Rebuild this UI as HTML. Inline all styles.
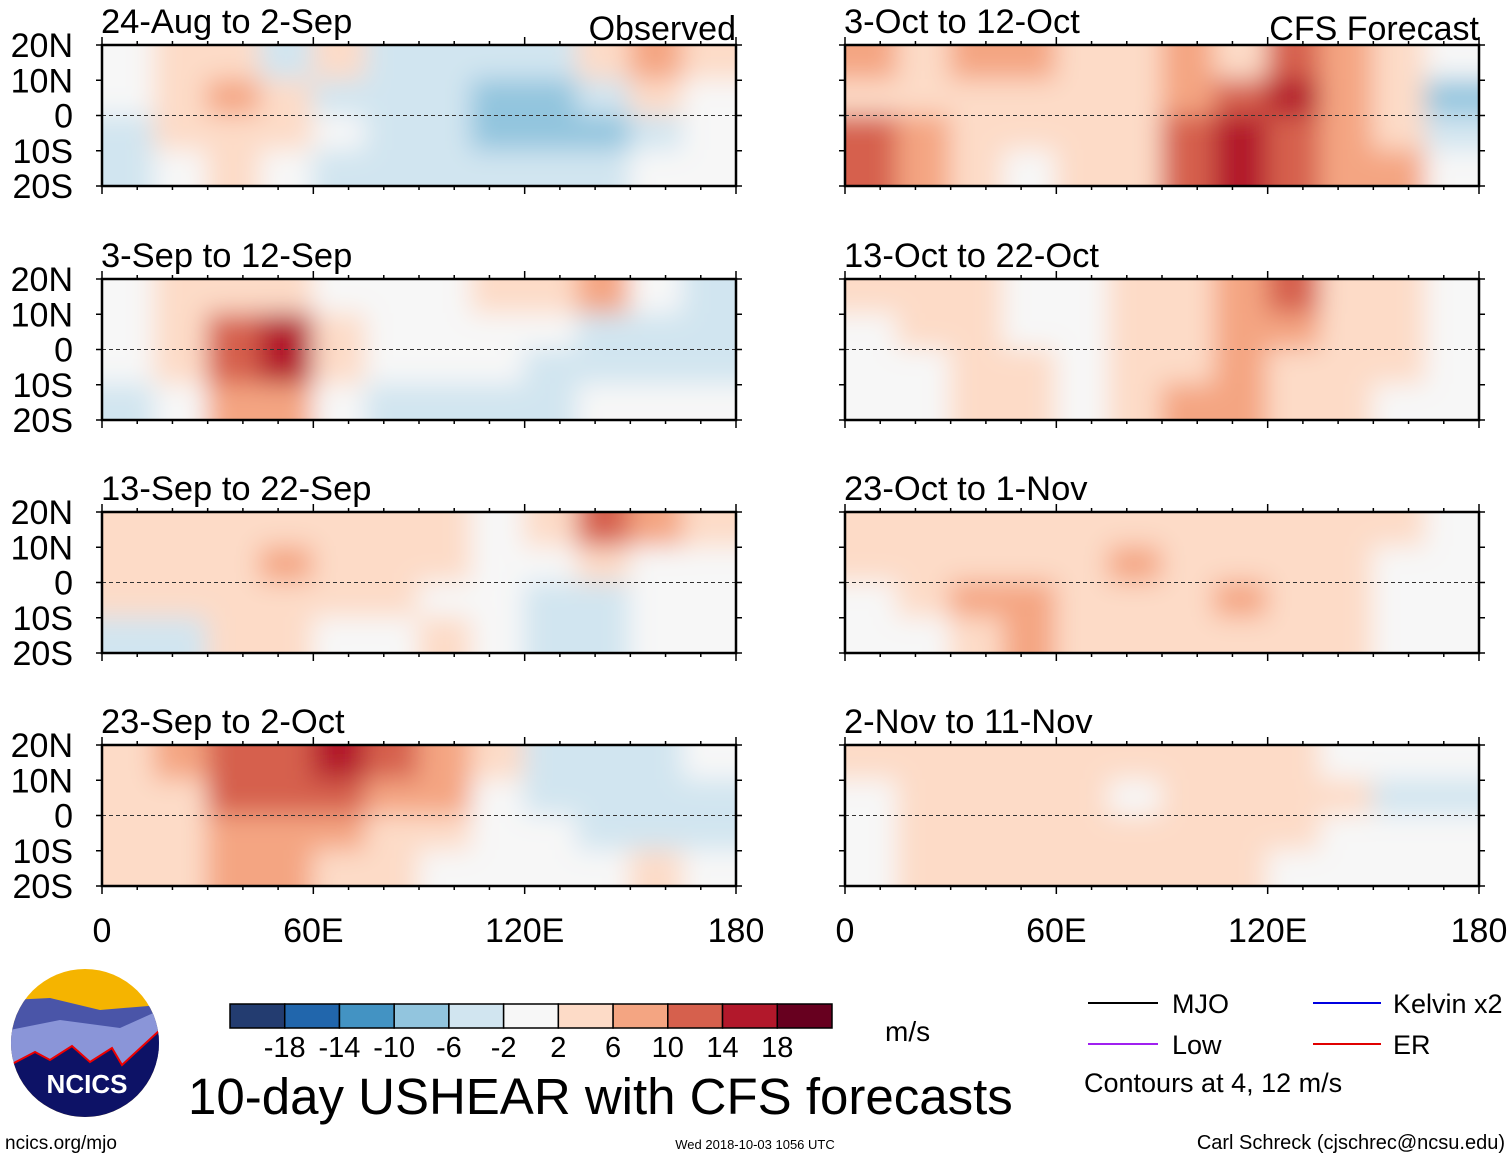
<!DOCTYPE html>
<html><head><meta charset="utf-8"><style>
html,body{margin:0;padding:0;background:#fff;}
svg{display:block;font-family:"Liberation Sans",sans-serif;}
</style></head><body>
<svg id="chart" width="1510" height="1159" viewBox="0 0 1510 1159" xmlns="http://www.w3.org/2000/svg">
<defs>
<filter id="blur" filterUnits="userSpaceOnUse" x="0" y="0" width="1510" height="960"><feGaussianBlur stdDeviation="13"/></filter>
</defs>
<g id="panels"></g>
<g id="bottom">
  <g>
    <clipPath id="logoclip"><circle cx="85" cy="1043" r="74"/></clipPath>
    <g clip-path="url(#logoclip)">
      <rect x="10" y="968" width="150" height="150" fill="#f5b400"/>
      <path d="M10 1000 L50 998 L100 1010 L160 1005 L160 1060 L10 1060Z" fill="#4a55a8"/>
      <path d="M10 1030 L60 1020 L120 1028 L160 1010 L160 1070 L10 1070Z" fill="#8a95d8"/>
      <path d="M10 1065 L35 1052 L50 1060 L72 1046 L90 1062 L112 1048 L122 1065 L160 1030 L160 1120 L10 1120Z" fill="#0d1266" stroke="#e00" stroke-width="2"/>
    </g>
    <text x="87" y="1093" font-size="26" font-weight="bold" fill="#fff" text-anchor="middle">NCICS</text>
  </g>
  <g id="cbar"></g>
  <text x="885" y="1041" font-size="28">m/s</text>
  <text x="188" y="1114" font-size="51">10-day USHEAR with CFS forecasts</text>
  <text x="5" y="1149" font-size="19">ncics.org/mjo</text>
  <text x="755" y="1149" font-size="13" text-anchor="middle">Wed 2018-10-03 1056 UTC</text>
  <text x="1505" y="1149" font-size="20" text-anchor="end">Carl Schreck (cjschrec@ncsu.edu)</text>
  <g>
    <line x1="1088" y1="1003" x2="1158" y2="1003" stroke="#000" stroke-width="2"/>
    <text x="1172" y="1013" font-size="27">MJO</text>
    <line x1="1088" y1="1044" x2="1158" y2="1044" stroke="#a020f0" stroke-width="2"/>
    <text x="1172" y="1054" font-size="27">Low</text>
    <line x1="1313" y1="1003" x2="1381" y2="1003" stroke="#0000e0" stroke-width="2"/>
    <text x="1393" y="1013" font-size="27">Kelvin x2</text>
    <line x1="1313" y1="1044" x2="1381" y2="1044" stroke="#e00000" stroke-width="2"/>
    <text x="1393" y="1054" font-size="27">ER</text>
    <text x="1084" y="1092" font-size="27">Contours at 4, 12 m/s</text>
  </g>
</g>
</svg>
<script>
const titles = ["24-Aug to 2-Sep","3-Sep to 12-Sep","13-Sep to 22-Sep","23-Sep to 2-Oct","3-Oct to 12-Oct","13-Oct to 22-Oct","23-Oct to 1-Nov","2-Nov to 11-Nov"];
const lonCenters = [7.5,22.5,37.5,52.5,67.5,82.5,97.5,112.5,127.5,142.5,157.5,172.5];
const latBands = [15,5,-5,-15];
const p1 = [[0,3,3,-3,2,-3,-4,-6,-6,4,6,3],[-2,2,6,2,-3,-4,-6,-10,-8,-6,2,0],[-4,2,4,2,-2,-4,-6,-8,-8,-8,-3,-2],[-3,-2,2,0,-3,-4,-4,-6,-6,-4,-2,0]];
const p2 = [[0,2,4,4,0,-2,-2,2,3,6,-2,-4],[0,3,10,14,4,0,-2,0,0,-4,-6,-6],[-2,3,12,14,4,0,0,-2,-3,-4,-4,-3],[-3,0,6,6,0,-3,-3,-3,-4,-2,-2,-2]];
const p3 = [[3,4,4,3,4,4,2,0,4,12,8,4],[2,3,4,6,2,2,2,0,0,2,-2,-2],[2,2,2,3,2,2,0,0,-4,-6,-2,0],[-3,-6,2,2,0,0,2,0,-3,-3,0,0]];
const p4 = [[4,6,10,12,14,12,8,4,-3,-6,-4,-2],[3,4,10,10,10,8,6,0,-4,-6,-4,-6],[3,4,8,8,6,4,2,0,-2,-4,-3,-6],[3,4,8,6,4,2,0,0,-2,-2,2,-2]];
const p5 = [[6,4,6,6,2,4,6,4,10,6,2,-2],[4,2,4,3,2,4,8,10,14,8,4,-8],[10,6,4,2,2,4,10,14,12,8,4,-4],[10,6,2,0,2,4,10,14,10,8,6,-2]];
const p6 = [[2,2,2,0,-2,2,2,6,10,4,2,0],[0,2,2,0,-2,2,4,6,8,4,2,0],[-2,0,2,2,0,2,4,6,4,4,2,0],[-2,0,2,2,0,2,6,8,4,2,0,0]];
const p7 = [[2,2,2,2,2,2,3,2,2,3,2,0],[2,2,3,4,3,6,2,4,2,2,0,-2],[0,2,6,6,2,2,2,6,4,2,-2,0],[-2,0,4,6,2,2,2,4,2,2,0,0]];
const p8 = [[2,2,3,2,2,2,2,2,3,0,-2,-2],[0,2,3,3,2,0,2,4,3,2,-3,-3],[0,2,3,3,2,2,3,4,2,0,-2,0],[0,2,3,4,3,2,3,2,0,0,0,0]];
const panelData = [p1,p2,p3,p4,p5,p6,p7,p8];
const levels = [-18,-14,-10,-6,-2,2,6,10,14,18];
const levelColors = ["#233c70","#2166ac","#4393c3","#92c5de","#d1e5f0","#f7f7f7","#fddbc7","#f4a582","#d6604d","#b2182b","#67001f"];
const cbarLabels = ["-18","-14","-10","-6","-2","2","6","10","14","18"];
const yTicks = ["20N","10N","0","10S","20S"];
const yTickVals = [20,10,0,-10,-20];
const xTicks = ["0","60E","120E","180"];
const xTickVals = [0,60,120,180];

const NS="http://www.w3.org/2000/svg";
const W=634, H=141;
const colX=[102,845], rowY=[45,279,512,745];
function colorFor(v){let i=0;while(i<levels.length&&v>=levels[i])i++;return levelColors[i];}
function mk(tag,attrs,parent){const e=document.createElementNS(NS,tag);for(const k in attrs)e.setAttribute(k,attrs[k]);parent.appendChild(e);return e;}
const root=document.getElementById('panels');
panelData.forEach((grid,pi)=>{
  const x0=colX[pi<4?0:1], y0=rowY[pi%4];
  const xs=lon=>x0+lon/180*W, ys=lat=>y0+(20-lat)/40*H;
  const g=mk('g',{},root);
  
  
  const cp=mk('clipPath',{id:'cp'+pi},g);
  mk('rect',{x:x0,y:y0,width:W,height:H},cp);
  const cg=mk('g',{'clip-path':'url(#cp'+pi+')'},g);
  mk('rect',{x:x0,y:y0,width:W,height:H,fill:'#f7f7f7'},cg);
  const bg=mk('g',{filter:'url(#blur)'},cg);
  grid.forEach((row,ri)=>row.forEach((v,ci)=>{
    let lx=xs(lonCenters[ci]-7.5)-1, lw=W/12+2, ly=ys(latBands[ri]+5)-1, lh=H/4+2;
    if(ci===0){lx-=40;lw+=40;} if(ci===11){lw+=40;}
    if(ri===0){ly-=40;lh+=40;} if(ri===3){lh+=40;}
    const r=mk('rect',{x:lx,y:ly,width:lw,height:lh,fill:colorFor(v)},bg);
    
    
  }));
  const eq=mk('line',{x1:x0,x2:x0+W,y1:ys(0),y2:ys(0),stroke:'#333','stroke-width':1,'stroke-dasharray':'4,3'},g);
  
  
  const fr=mk('rect',{x:x0,y:y0,width:W,height:H,fill:'none',stroke:'#000','stroke-width':2.5},g);
  
  
  for(let lon=0;lon<=180;lon+=10){const l=lon%60===0?8:4;
    mk('line',{x1:xs(lon),x2:xs(lon),y1:y0,y2:y0-l,stroke:'#000','stroke-width':1.5},g);
    mk('line',{x1:xs(lon),x2:xs(lon),y1:y0+H,y2:y0+H+l,stroke:'#000','stroke-width':1.5},g);}
  yTickVals.forEach(v=>{mk('line',{x1:x0,x2:x0-6,y1:ys(v),y2:ys(v),stroke:'#000','stroke-width':1.5},g);mk('line',{x1:x0+W,x2:x0+W+6,y1:ys(v),y2:ys(v),stroke:'#000','stroke-width':1.5},g);});
  const t=mk('text',{x:x0-1,y:y0-12,'font-size':34.5},g);t.textContent=titles[pi];
  
  
  if(pi===0||pi===4){const s=mk('text',{x:x0+W,y:y0-5,'font-size':34,'text-anchor':'end'},g);s.textContent=pi===0?'Observed':'CFS Forecast';
    
    }
  if(pi<4){yTicks.forEach((lab,i)=>{const tt=mk('text',{x:73,y:ys(yTickVals[i])+12,'font-size':34,'text-anchor':'end'},g);tt.textContent=lab;
    
    });}
  if(pi%4===3){xTicks.forEach((lab,i)=>{const tt=mk('text',{x:xs(xTickVals[i]),y:942,'font-size':34,'text-anchor':'middle'},g);tt.textContent=lab;
    
    });}
});
const cb=document.getElementById('cbar');
const bw=(832-230)/levelColors.length;
levelColors.forEach((c,i)=>{const r=mk('rect',{x:230+i*bw,y:1004,width:bw,height:24,fill:c,stroke:'#000','stroke-width':1.5},cb);
  
  });
cbarLabels.forEach((lab,i)=>{const t=mk('text',{x:230+(i+1)*bw,y:1057,'font-size':29,'text-anchor':'middle'},cb);t.textContent=lab;
  
  });
</script>
</body></html>
